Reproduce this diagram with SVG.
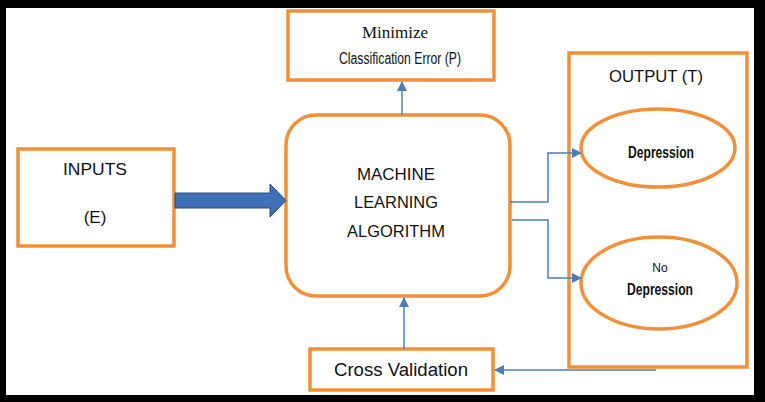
<svg xmlns="http://www.w3.org/2000/svg" width="765" height="402" viewBox="0 0 765 402">
<style>
.box{fill:#fff;stroke:#F0913A;stroke-width:3.5}
.t{font-family:"Liberation Sans",Arial,sans-serif;fill:#111;text-anchor:middle}
.c{fill:none;stroke:#4A7EBB;stroke-width:1.5}
</style>
<defs>
<marker id="ah" viewBox="0 0 10 10" refX="9" refY="5" markerWidth="10" markerHeight="10" markerUnits="userSpaceOnUse" orient="auto">
<path d="M0,0 L10,5 L0,10 z" fill="#4A7EBB"/>
</marker>
</defs>
<rect x="0" y="0" width="765" height="402" fill="#000"/>
<rect x="6" y="8" width="748" height="387" fill="#fff"/>
<g id="minimize">
<rect class="box" x="288" y="11" width="206" height="69"/>
<text x="395" y="38" style="font-family:'Liberation Serif','Times New Roman',serif;font-size:17px;fill:#111;text-anchor:middle">Minimize</text>
<text class="t" x="400" y="64" font-size="16" textLength="122" lengthAdjust="spacingAndGlyphs">Classification Error (P)</text>
</g>
<g id="inputs">
<rect class="box" x="18" y="149" width="156" height="97"/>
<text class="t" x="95" y="175" font-size="17" textLength="64" lengthAdjust="spacingAndGlyphs">INPUTS</text>
<text class="t" x="95" y="223" font-size="17">(E)</text>
</g>
<g id="ml">
<rect class="box" x="286" y="115" width="224" height="181" rx="30"/>
<text class="t" x="396" y="180" font-size="16.5" textLength="78" lengthAdjust="spacingAndGlyphs">MACHINE</text>
<text class="t" x="396" y="208" font-size="16.5" textLength="84" lengthAdjust="spacingAndGlyphs">LEARNING</text>
<text class="t" x="396" y="237" font-size="16.5" textLength="98" lengthAdjust="spacingAndGlyphs">ALGORITHM</text>
</g>
<g id="output">
<rect class="box" x="569" y="53" width="178" height="314"/>
<text class="t" x="656" y="82" font-size="17" textLength="94" lengthAdjust="spacingAndGlyphs">OUTPUT (T)</text>
</g>
<g id="depression">
<ellipse class="box" cx="658" cy="148" rx="77" ry="39"/>
<text class="t" x="661" y="158" font-size="16" font-weight="bold" textLength="66" lengthAdjust="spacingAndGlyphs">Depression</text>
</g>
<g id="nodepression">
<ellipse class="box" cx="659" cy="283" rx="78" ry="46"/>
<text class="t" x="660" y="272" font-size="12">No</text>
<text class="t" x="660" y="295" font-size="16" font-weight="bold" textLength="66" lengthAdjust="spacingAndGlyphs">Depression</text>
</g>
<g id="crossval">
<rect class="box" x="310" y="349" width="183" height="41"/>
<text class="t" x="401" y="376" font-size="18" textLength="134" lengthAdjust="spacingAndGlyphs">Cross Validation</text>
</g>
<g id="connectors">
<path d="M175,193 L270,193 L270,184 L286,200.5 L270,217 L270,208 L175,208 z" fill="#3F6FB5" stroke="#2A4F80" stroke-width="1"/>
<path class="c" d="M402,115 L402,82" marker-end="url(#ah)"/>
<path class="c" d="M510,202 L548,202 L548,153 L581,153" marker-end="url(#ah)"/>
<path class="c" d="M512,220 L548,220 L548,278 L581,278" marker-end="url(#ah)"/>
<path class="c" d="M404,349 L404,298" marker-end="url(#ah)"/>
<path class="c" d="M656,370 L495,370" marker-end="url(#ah)"/>
</g>
</svg>
